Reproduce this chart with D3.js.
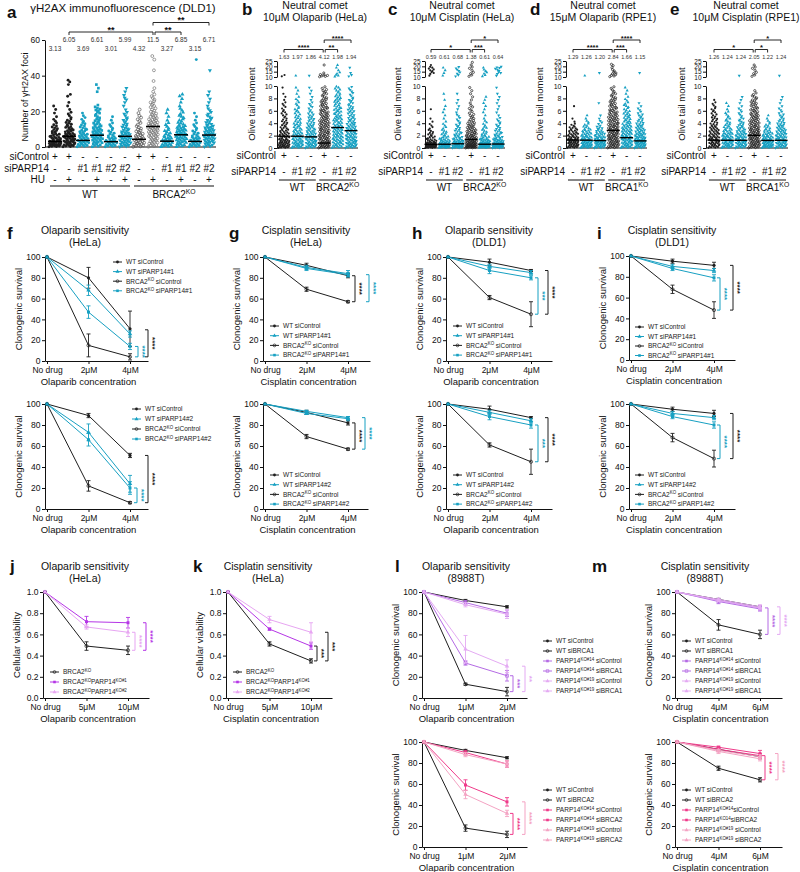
<!DOCTYPE html>
<html><head><meta charset="utf-8">
<script src="https://cdn.jsdelivr.net/npm/d3@7"></script>
<style>body{margin:0;background:#fff}</style>
</head><body><script>
// ================= DATA =================
// Panel a: gammaH2AX foci, counts of cells per 2-foci bin (0-2, 2-4, ...)
const aSiControl = ["+","+","-","-","-","-","+","+","-","-","-","-"];
const aSiPARP14  = ["-","-","#1","#1","#2","#2","-","-","#1","#1","#2","#2"];
const aHU        = ["-","+","-","+","-","+","-","+","-","+","-","+"];
const aMeans     = [3.13,6.05,3.69,6.61,3.01,5.99,4.32,11.5,3.27,6.85,3.15,6.71];
const aMeanLabels= ["3.13","6.05","3.69","6.61","3.01","5.99","4.32","11.5","3.27","6.85","3.15","6.71"];
const aTicks     = [0,20,40,60];
const aCounts = [
 [14,10,8,6,4,4,2,2,1,1,1,1],
 [10,10,9,8,6,5,4,3,2,2,1,1,1,0,2,0,0,1,2],
 [8,8,7,6,5,4,3,2,2,1],
 [6,7,8,8,7,6,5,4,3,3,4,2,0,0,0,1,1,1],
 [8,8,6,4,3,2,2,1,1],
 [7,8,8,7,5,4,3,3,2,2,1,1,1,2,1,1,1],
 [8,7,6,5,4,3,2,2,2,1,1],
 [6,6,6,7,7,8,7,6,5,4,3,3,3,2,2,1,1,0,1,0,0,1,0,0,1,1],
 [8,7,6,4,3,2,2,1,1,1,1],
 [6,7,8,8,7,6,4,3,3,2,2,1,1,1,2],
 [8,7,6,4,3,2,2,1,1,1,0,0,0,0,0,0,0,0,0,0,0,0,0,0,1],
 [6,7,8,8,7,6,4,3,3,2,2,1,1,1,1,1,0,0,0,0,0,1]
];
const aSig = ["**","**","**"];

// Panels b-e: olive tail moment; counts per 0.5 bin (0-10) and per 2.5 bin (10-25)
const cometSiControl = ["+","-","-","+","-","-"];
const cometSiPARP14  = ["-","#1","#2","-","#1","#2"];
const cometLowTicks  = [0,2,4,6,8,10];
const cometHighTicks = [10,15,20,25];
const bLow = [
 [14,12,10,8,7,6,5,4,4,3,3,3,2,2,2,1,1,1,0,1],
 [10,10,9,8,7,6,5,5,4,4,3,3,3,2,2,2,1,1,1,1],
 [10,10,9,8,7,6,6,5,4,4,3,3,2,2,2,1,1,1,1,1],
 [12,10,9,9,8,8,7,7,7,6,6,6,5,5,4,4,3,3,3,2],
 [8,8,8,8,7,7,7,6,6,6,5,5,5,4,4,4,4,3,3,3],
 [10,10,9,9,8,7,7,6,5,5,4,4,4,3,3,3,2,2,2,2]];
const bHigh = [[2,0,0,0,0,0],[1,0,0,0,0,0],[1,0,0,0,0,0],[6,1,0,0,1,0],[3,2,1,1,1,0],[2,1,0,1,0,0]];
const bLine = [1.9,1.9,1.8,0.8,3.3,2.8];
const bMeans = ["1.63","1.97","1.86","4.12","1.98","1.94"];
const bSig = ["****","**","****"];
const cLow = [
 [22,14,8,5,4,3,2,2,1,1,0,0,1,0,0,0,0,0,0,0],
 [18,12,8,5,4,3,2,2,1,1,1,1,1,1,0,1,0,1,0,0],
 [18,12,9,6,5,4,3,3,2,2,2,1,1,1,1,1,0,1,0,0],
 [20,16,12,10,8,7,6,5,4,3,3,2,2,2,1,1,1,1,1,1],
 [20,14,10,6,4,3,3,2,2,1,1,1,1,1,1,1,1,0,0,0],
 [20,14,10,6,5,4,3,3,2,2,1,1,1,1,1,1,1,1,0,1]];
const cHigh = [[1,3,3,3,1,0],[1,1,1,1,0,0],[2,2,2,2,0,0],[2,2,1,2,1,1],[2,2,2,1,0,0],[1,3,2,4,0,0]];
const cLine = [0.59,0.61,0.68,1.38,0.61,0.64];
const cMeans = ["0.59","0.61","0.68","1.38","0.61","0.64"];
const cSig = ["*","***","*"];
const dLow = [
 [12,12,11,9,8,6,5,3,1,1,0,0,0,1,0,0,0,0,0,0],
 [12,12,10,9,7,6,4,3,2,1,1,0,0,0,0,0,0,0,0,0],
 [12,12,10,9,7,5,4,2,2,1,1,0,0,0,1,0,0,0,0,0],
 [10,10,10,10,9,9,8,8,7,7,6,6,5,5,4,4,3,3,2,2],
 [10,10,10,9,8,8,7,6,5,5,4,4,3,3,2,2,1,1,1,1],
 [12,12,11,10,9,7,6,5,4,3,3,2,2,1,1,0,0,0,0,0]];
const dHigh = [[0,0,0,0,0,0],[1,0,0,0,0,0],[0,1,0,0,0,0],[4,3,2,1,2,0],[0,0,0,0,0,0],[0,1,0,0,0,0]];
const dLine = [1.29,1.26,1.20,2.84,1.66,1.15];
const dMeans = ["1.29","1.26","1.20","2.84","1.66","1.15"];
const dSig = ["****","***","****"];
const eLow = [
 [10,10,10,9,8,7,6,5,4,4,3,3,3,2,2,1,0,0,0,0],
 [10,10,10,9,8,6,5,4,3,3,2,2,1,1,1,0,0,0,0,0],
 [10,10,10,9,8,6,5,4,3,3,2,2,2,1,1,1,1,0,0,0],
 [10,10,10,10,9,9,8,7,7,6,6,5,5,4,4,3,3,2,1,0],
 [12,12,10,9,7,5,4,3,2,1,1,0,0,0,0,0,0,0,0,0],
 [10,10,10,9,8,7,6,5,4,3,3,2,2,1,1,1,1,0,0,0]];
const eHigh = [[0,0,0,0,0,0],[0,0,0,0,0,0],[1,0,0,0,0,0],[2,2,1,2,1,0],[0,0,0,0,0,0],[1,0,0,0,0,0]];
const eLine = [1.26,1.24,1.24,2.05,1.22,1.24];
const eMeans = ["1.26","1.24","1.24","2.05","1.22","1.24"];
const eSig = ["*","*","*"];

// Panels f-m: survival curves
const survTicks = [0,20,40,60,80,100];
const viabTicks = [0,0.2,0.4,0.6,0.8,1.0];
const doses24 = ["No drug","2μM","4μM"];
const doses510 = ["No drug","5μM","10μM"];
const doses12 = ["No drug","1μM","2μM"];
const doses46 = ["No drug","4μM","6μM"];
const f1Vals = [[100,80,31],[100,68,26],[100,15,4],[100,47,14]];
const f1Errs = [[0,10,17],[0,5,3],[0,11,3],[0,6,3]];
const f2Vals = [[100,89,51],[100,73,24],[100,22,6],[100,66,20]];
const f2Errs = [[0,2,2],[0,8,8],[0,5,1],[0,6,6]];
const g1Vals = [[100,92,82],[100,90,84],[100,69,57],[100,89,83]];
const g1Errs = [[0,2,2],[0,2,3],[0,2,1],[0,2,2]];
const g2Vals = [[100,92,82],[100,91,86],[100,69,57],[100,93,87]];
const g2Errs = [[0,2,2],[0,1,2],[0,2,1],[0,1,1]];
const h1Vals = [[100,95,87],[100,91,85],[100,61,45],[100,87,80]];
const h1Errs = [[0,3,1],[0,2,2],[0,2,12],[0,3,2]];
const h2Vals = [[100,95,87],[100,92,84],[100,61,45],[100,88,80]];
const h2Errs = [[0,3,1],[0,2,2],[0,2,12],[0,3,3]];
const i1Vals = [[100,95,91],[100,90,86],[100,68,48],[100,88,79]];
const i1Errs = [[0,2,3],[0,2,2],[0,4,8],[0,2,3]];
const i2Vals = [[100,95,91],[100,91,87],[100,68,48],[100,88,80]];
const i2Errs = [[0,2,3],[0,2,2],[0,4,8],[0,2,3]];
const jVals = [[1,0.49,0.45],[1,0.72,0.71],[1,0.67,0.62]];
const jErrs = [[0,0.04,0.04],[0,0.05,0.05],[0,0.02,0.04]];
const kVals = [[1,0.51,0.35],[1,0.65,0.49],[1,0.74,0.62]];
const kErrs = [[0,0.02,0.02],[0,0.01,0.03],[0,0.03,0.09]];
const lVals = [[100,92,86],[100,13,6],[100,90,80],[100,33,21],[100,88,79],[100,46,30]];
const lErrs = [[0,1,1],[0,1,4],[0,2,3],[0,2,5],[0,2,4],[0,13,6]];
const l2Vals = [[100,92,85],[100,18,12],[100,90,79],[100,59,43],[100,88,79],[100,50,32]];
const l2Errs = [[0,1,1],[0,3,3],[0,2,3],[0,5,4],[0,2,3],[0,4,3]];
const mVals = [[100,93,86],[100,69,60],[100,92,85],[100,91,84],[100,93,86],[100,92,85]];
const mErrs = [[0,1,1],[0,5,4],[0,1,2],[0,2,2],[0,1,2],[0,1,2]];
const m2Vals = [[100,93,86],[100,75,64],[100,95,89],[100,93,87],[100,92,86],[100,91,84]];
const m2Errs = [[0,1,2],[0,2,2],[0,1,3],[0,2,2],[0,1,2],[0,2,2]];
const legF1 = ["WT siControl","WT siPARP14#1","BRCA2^KO^ siControl","BRCA2^KO^ siPARP14#1"];
const legF2 = ["WT siControl","WT siPARP14#2","BRCA2^KO^ siControl","BRCA2^KO^ siPARP14#2"];
const legJ  = ["BRCA2^KO","BRCA2^KO^PARP14^KO#1","BRCA2^KO^PARP14^KO#2"];
const legL1 = ["WT siControl","WT siBRCA1","PARP14^KO#14^ siControl","PARP14^KO#14^ siBRCA1","PARP14^KO#19^ siControl","PARP14^KO#19^ siBRCA1"];
const legL2 = ["WT siControl","WT siBRCA2","PARP14^KO#14^ siControl","PARP14^KO#14^ siBRCA2","PARP14^KO#19^ siControl","PARP14^KO#19^ siBRCA2"];
const legM2 = ["WT siControl","WT siBRCA2","PARP14^KO#14^siControl","PARP14^KO14^siBRCA2","PARP14^KO#19^ siControl","PARP14^KO#19^ siBRCA2"];

// ================= STYLE =================
const FONT = "'Liberation Sans', Arial, Helvetica, sans-serif";
const BLACK = "#1e1e1e", TEAL = "#17a0c2", GRAY = "#555";
const PURPLE = "#b535e6", LPURPLE = "#e7a5f2";
const MPURPLE = "#b46ae4", LMPURPLE = "#e4aaf3";
const PINK = "#ef3a8a", LPINK = "#f4a3c3";

const svg = d3.select("body").append("svg").attr("width",800).attr("height",872)
  .style("font-family",FONT).style("background","#fff");

function rich(sel, s, size){
  const parts = s.split("^"); let up=false;
  parts.forEach((p,i)=>{
    const sup = i%2===1;
    if(p===""){ return; }
    const ts = sel.append("tspan").text(p);
    if(sup){ ts.attr("font-size",size*0.68); if(!up){ts.attr("dy",-size*0.38); up=true;} }
    else if(up){ ts.attr("dy",size*0.38); up=false; }
  });
}
function txt(x,y,s,o={}){
  const size=o.size||9;
  const t=svg.append("text").attr("x",x).attr("y",y).attr("font-size",size)
    .attr("text-anchor",o.anchor||"start").attr("fill",o.color||"#111");
  if(o.weight) t.attr("font-weight",o.weight);
  if(o.rotate!=null) t.attr("transform",`rotate(${o.rotate},${x},${y})`);
  rich(t,s,size); return t;
}
function ln(x1,y1,x2,y2,c,w){ svg.append("line").attr("x1",x1).attr("y1",y1).attr("x2",x2).attr("y2",y2).attr("stroke",c||"#111").attr("stroke-width",w||1); }
function styleAxis(g,size){
  g.attr("font-family",FONT).attr("font-size",size);
  g.select(".domain").attr("stroke","#111");
  g.selectAll(".tick line").attr("stroke","#111");
  g.selectAll(".tick text").attr("fill","#111");
}
function marker(x,y,shape,color,open,r){
  if(shape==="circle"){
    svg.append("circle").attr("cx",x).attr("cy",y).attr("r",r)
      .attr("fill",open?"none":color).attr("stroke",open?color:"none").attr("stroke-width",0.7);
  } else {
    const t={square:d3.symbolSquare,triangle:d3.symbolTriangle,down:d3.symbolTriangle,diamond:d3.symbolDiamond}[shape];
    svg.append("path").attr("d",d3.symbol().type(t).size(r*r*3.4)())
      .attr("transform",`translate(${x},${y})${shape==="down"?" rotate(180)":""}`)
      .attr("fill",open?"none":color).attr("stroke",open?color:"none").attr("stroke-width",0.7);
  }
}
function dots(cx,counts,base,binW,yScale,st,maxW,r){
  counts.forEach((n,j)=>{
    const W=Math.min(maxW,2+n*1.2);
    for(let k=0;k<n;k++){
      const v=base+(j+(k+0.5)/n)*binW;
      const px=cx+(((k*0.618034+j*0.371)%1)-0.5)*W;
      marker(px,yScale(v),st.m,st.c,st.open,r);
    }
  });
}
function hBracket(x1,x2,y,label,size){
  ln(x1,y,x2,y,"#111",0.9); ln(x1,y,x1,y+3,"#111",0.9); ln(x2,y,x2,y+3,"#111",0.9);
  txt((x1+x2)/2,y+0.5,label,{size:size,anchor:"middle",weight:"bold"});
}

// ================= PANEL a =================
(function(){
  const y=d3.scaleLinear().domain([0,60]).range([147,40]);
  const gx=d3.scaleLinear().domain([0,11]).range([55,209]);
  const ax=svg.append("g").attr("transform","translate(45,0)")
    .call(d3.axisLeft(y).tickValues(aTicks).tickSize(3).tickSizeOuter(0).tickPadding(2));
  styleAxis(ax,8.5);
  ln(45,147,216,147);
  const st=[{m:"circle",c:BLACK},{m:"circle",c:BLACK},{m:"circle",c:TEAL},{m:"square",c:TEAL},{m:"circle",c:TEAL},{m:"down",c:TEAL},
            {m:"circle",c:GRAY,open:true},{m:"circle",c:"#777",open:true},{m:"triangle",c:TEAL},{m:"triangle",c:TEAL},{m:"circle",c:TEAL},{m:"down",c:TEAL}];
  aCounts.forEach((c,i)=>dots(gx(i),c,0,2,y,st[i],12,1.45));
  aMeans.forEach((m,i)=>ln(gx(i)-7,y(m),gx(i)+7,y(m),"#000",1.5));
  aMeanLabels.forEach((s,i)=>txt(gx(i),i%2?42:51,s,{size:6.5,anchor:"middle",color:"#333"}));
  hBracket(gx(1),gx(7),32,aSig[0],9);
  hBracket(gx(7)+2,gx(9),32,aSig[1],9);
  hBracket(gx(7),gx(11),22.5,aSig[2],9);
  txt(7,18,"a",{size:17,weight:"bold"});
  txt(123,11.5,"γH2AX immunofluorescence (DLD1)",{size:11.5,anchor:"middle"});
  txt(28,97,"Number of γH2AX foci",{size:9,anchor:"middle",rotate:-90});
  txt(49,160,"siControl",{size:10,anchor:"end"});
  txt(49,171.5,"siPARP14",{size:10,anchor:"end"});
  txt(45,183,"HU",{size:10,anchor:"end"});
  aSiControl.forEach((s,i)=>txt(gx(i),160,s,{size:10,anchor:"middle"}));
  aSiPARP14.forEach((s,i)=>txt(gx(i),171.5,s,{size:10,anchor:"middle"}));
  aHU.forEach((s,i)=>txt(gx(i),183,s,{size:10,anchor:"middle"}));
  ln(gx(0)-5,186,gx(5)+5,186,"#111",1.2); ln(gx(6)-5,186,gx(11)+5,186,"#111",1.2);
  txt((gx(0)+gx(5))/2,198,"WT",{size:10,anchor:"middle"});
  txt((gx(6)+gx(11))/2,198,"BRCA2^KO",{size:10,anchor:"middle"});
})();

// ================= PANELS b-e =================
function cometPanel(o){
  const yL=d3.scaleLinear().domain([0,10]).range([148,86]);
  const yH=d3.scaleLinear().domain([10,25]).range([77,61]);
  const gx=d3.scaleLinear().domain([0,5]).range([o.g1,o.g1+5*13.4]);
  const a1=svg.append("g").attr("transform",`translate(${o.axisX},0)`)
    .call(d3.axisLeft(yL).tickValues(cometLowTicks).tickSize(3).tickSizeOuter(0).tickPadding(1.5));
  const a2=svg.append("g").attr("transform",`translate(${o.axisX},0)`)
    .call(d3.axisLeft(yH).tickValues(cometHighTicks).tickSize(3).tickSizeOuter(0).tickPadding(1.5));
  styleAxis(a1,7); styleAxis(a2,6.5);
  ln(o.axisX,148,gx(5)+7,148);
  const st=[{m:"circle",c:BLACK},{m:"triangle",c:TEAL},{m:"down",c:TEAL},{m:"circle",c:BLACK,open:true},{m:"triangle",c:TEAL},{m:"down",c:TEAL}];
  o.low.forEach((c,i)=>dots(gx(i),c,0,0.5,yL,st[i],11,1.1));
  o.high.forEach((c,i)=>dots(gx(i),c,10,2.5,yH,st[i],11,1.1));
  o.line.forEach((m,i)=>ln(gx(i)-6.5,yL(m),gx(i)+6.5,yL(m),"#000",1.4));
  o.means.forEach((s,i)=>txt(gx(i),59,s,{size:5.5,anchor:"middle",color:"#333"}));
  hBracket(gx(0),gx(3)-1,49.5,o.sig[0],7.5);
  hBracket(gx(3)+1,gx(4),49.5,o.sig[1],7.5);
  hBracket(gx(3),gx(5),40,o.sig[2],7.5);
  txt(o.letterX,15,o.letter,{size:17,weight:"bold"});
  txt(o.titleX,9,"Neutral comet",{size:10.5,anchor:"middle"});
  txt(o.titleX,21,o.title2,{size:10.5,anchor:"middle"});
  txt(o.ylabX,104,"Olive tail moment",{size:9.5,anchor:"middle",rotate:-90});
  txt(gx(0)-8,159,"siControl",{size:10,anchor:"end"});
  txt(gx(0)-8,175,"siPARP14",{size:10,anchor:"end"});
  cometSiControl.forEach((s,i)=>txt(gx(i),159,s,{size:10,anchor:"middle"}));
  cometSiPARP14.forEach((s,i)=>txt(gx(i),175,s,{size:10,anchor:"middle"}));
  ln(gx(0)-5,180,gx(2)+5,180,"#111",1.2); ln(gx(3)-5,180,gx(5)+5,180,"#111",1.2);
  txt(gx(1),191,"WT",{size:10,anchor:"middle"});
  txt(gx(4),191,o.ko,{size:10,anchor:"middle"});
}
cometPanel({letter:"b",letterX:242,titleX:315,title2:"10μM Olaparib (HeLa)",ylabX:255,axisX:277,g1:284,low:bLow,high:bHigh,line:bLine,means:bMeans,sig:bSig,ko:"BRCA2^KO"});
cometPanel({letter:"c",letterX:388,titleX:462,title2:"10μM Cisplatin (HeLa)",ylabX:401,axisX:425,g1:431,low:cLow,high:cHigh,line:cLine,means:cMeans,sig:cSig,ko:"BRCA2^KO"});
cometPanel({letter:"d",letterX:530,titleX:603,title2:"15μM Olaparib (RPE1)",ylabX:543,axisX:566,g1:573,low:dLow,high:dHigh,line:dLine,means:dMeans,sig:dSig,ko:"BRCA1^KO"});
cometPanel({letter:"e",letterX:670,titleX:746,title2:"10μM Cisplatin (RPE1)",ylabX:685,axisX:706,g1:714,low:eLow,high:eHigh,line:eLine,means:eMeans,sig:eSig,ko:"BRCA1^KO"});

// ================= LINE PANELS =================
function lineChart(o){
  const y=d3.scaleLinear().domain([0,o.yMax]).range([o.yBot,o.yTop]);
  const off=2, step=41.5;
  const x=d3.scaleLinear().domain([-off/step,(o.xEnd-o.axisX-off)/step]).range([o.axisX,o.xEnd]);
  const ya=svg.append("g").attr("transform",`translate(${o.axisX},0)`)
    .call(d3.axisLeft(y).tickValues(o.ticks).tickFormat(o.fmt||(d=>d)).tickSize(3).tickSizeOuter(0).tickPadding(1.5));
  const xa=svg.append("g").attr("transform",`translate(0,${o.yBot})`)
    .call(d3.axisBottom(x).tickValues([0,1,2]).tickFormat(i=>o.doses[i]).tickSize(3).tickSizeOuter(0).tickPadding(2.5));
  styleAxis(ya,8.5); styleAxis(xa,8.5);
  const line=d3.line().x((d,i)=>x(i)).y(d=>y(d));
  o.vals.forEach((v,s)=>{
    const st=o.styles[s];
    svg.append("path").attr("d",line(v)).attr("fill","none").attr("stroke",st.c).attr("stroke-width",1);
    v.forEach((d,i)=>{
      const e=o.errs[s][i];
      if(e>0){
        ln(x(i),y(d-e),x(i),y(d+e),st.c,0.9);
        ln(x(i)-2,y(d-e),x(i)+2,y(d-e),st.c,0.9);
        ln(x(i)-2,y(d+e),x(i)+2,y(d+e),st.c,0.9);
      }
      marker(x(i),y(d),st.m,st.c,st.open,1.6);
    });
  });
  o.brackets.forEach(b=>{
    const bx=x(2)+b.dx, y1=y(b.a), y2=y(b.b);
    ln(bx,y1,bx,y2,b.c,1); ln(bx-3,y1,bx,y1,b.c,1); ln(bx-3,y2,bx,y2,b.c,1);
    txt(bx+1.5,(y1+y2)/2,b.s,{size:8,anchor:"middle",rotate:90,color:b.c,weight:"bold"});
  });
  o.legend.forEach((s,i)=>{
    const ly=o.legY+i*o.legDy, st=o.styles[i];
    ln(o.legX,ly,o.legX+9,ly,st.c,1);
    marker(o.legX+4.5,ly,st.m,st.c,st.open,1.4);
    txt(o.legX+13,ly+2.3,s,{size:6.5,color:"#222"});
  });
  txt((o.axisX+o.xEnd)/2-8,o.yBot+24,o.xLabel,{size:9.5,anchor:"middle"});
  txt(o.axisX-23,(o.yTop+o.yBot)/2,o.yLabel,{size:9.5,anchor:"middle",rotate:-90});
  if(o.title){
    txt(o.titleX,o.titleY,o.title[0],{size:10.5,anchor:"middle"});
    txt(o.titleX,o.titleY+12,o.title[1],{size:10.5,anchor:"middle"});
  }
  if(o.letter) txt(o.letterX,o.letterY,o.letter,{size:17,weight:"bold"});
}
const sty4 = [{c:BLACK,m:"circle"},{c:TEAL,m:"triangle"},{c:BLACK,m:"circle",open:true},{c:TEAL,m:"square"}];
const styJ = [{c:BLACK,m:"circle",open:true},{c:PURPLE,m:"square"},{c:LPURPLE,m:"triangle"}];
const styL = [{c:BLACK,m:"circle"},{c:BLACK,m:"circle",open:true},{c:MPURPLE,m:"square"},{c:MPURPLE,m:"square",open:true},{c:LMPURPLE,m:"triangle"},{c:LMPURPLE,m:"triangle"}];
const styL2= [{c:BLACK,m:"circle"},{c:BLACK,m:"circle",open:true},{c:PINK,m:"square"},{c:PINK,m:"square"},{c:LPINK,m:"triangle"},{c:LPINK,m:"triangle"}];
const CS="Clonogenic survival";

lineChart({axisX:45,xEnd:148,yTop:257,yBot:361,yMax:100,ticks:survTicks,doses:doses24,vals:f1Vals,errs:f1Errs,styles:sty4,
  brackets:[{a:14,b:4,c:TEAL,s:"****",dx:8},{a:30,b:4,c:BLACK,s:"****",dx:18}],
  legend:legF1,legX:113,legY:262,legDy:9.6,xLabel:"Olaparib concentration",yLabel:CS,
  title:["Olaparib sensitivity","(HeLa)"],titleX:85,titleY:234,letter:"f",letterX:7,letterY:239});
lineChart({axisX:45,xEnd:148,yTop:404,yBot:509,yMax:100,ticks:survTicks,doses:doses24,vals:f2Vals,errs:f2Errs,styles:sty4,
  brackets:[{a:20,b:6,c:TEAL,s:"****",dx:7},{a:51,b:6,c:BLACK,s:"****",dx:18}],
  legend:legF2,legX:132,legY:409,legDy:10,xLabel:"Olaparib concentration",yLabel:CS});
lineChart({axisX:263,xEnd:370,yTop:257,yBot:361,yMax:100,ticks:survTicks,doses:doses24,vals:g1Vals,errs:g1Errs,styles:sty4,
  brackets:[{a:82,b:57,c:BLACK,s:"****",dx:7},{a:83,b:57,c:TEAL,s:"****",dx:21}],
  legend:legF1,legX:270,legY:326,legDy:9.7,xLabel:"Cisplatin concentration",yLabel:CS,
  title:["Cisplatin sensitivity","(HeLa)"],titleX:306,titleY:234,letter:"g",letterX:229,letterY:239});
lineChart({axisX:263,xEnd:368,yTop:404,yBot:509,yMax:100,ticks:survTicks,doses:doses24,vals:g2Vals,errs:g2Errs,styles:sty4,
  brackets:[{a:82,b:57,c:BLACK,s:"****",dx:7},{a:87,b:57,c:TEAL,s:"****",dx:17}],
  legend:legF2,legX:270,legY:475,legDy:9.7,xLabel:"Cisplatin concentration",yLabel:CS});
lineChart({axisX:446,xEnd:552,yTop:257,yBot:361,yMax:100,ticks:survTicks,doses:doses24,vals:h1Vals,errs:h1Errs,styles:sty4,
  brackets:[{a:80,b:45,c:TEAL,s:"***",dx:7},{a:87,b:45,c:BLACK,s:"****",dx:17}],
  legend:legF1,legX:453,legY:326,legDy:9.7,xLabel:"Olaparib concentration",yLabel:CS,
  title:["Olaparib sensitivity","(DLD1)"],titleX:489,titleY:234,letter:"h",letterX:412,letterY:239});
lineChart({axisX:446,xEnd:552,yTop:404,yBot:509,yMax:100,ticks:survTicks,doses:doses24,vals:h2Vals,errs:h2Errs,styles:sty4,
  brackets:[{a:80,b:45,c:TEAL,s:"***",dx:7},{a:87,b:45,c:BLACK,s:"****",dx:17}],
  legend:legF2,legX:453,legY:475,legDy:9.7,xLabel:"Olaparib concentration",yLabel:CS});
lineChart({axisX:629,xEnd:735,yTop:256,yBot:360,yMax:100,ticks:survTicks,doses:doses24,vals:i1Vals,errs:i1Errs,styles:sty4,
  brackets:[{a:79,b:48,c:TEAL,s:"****",dx:6},{a:91,b:48,c:BLACK,s:"****",dx:19}],
  legend:legF1,legX:635,legY:327,legDy:9.5,xLabel:"Cisplatin concentration",yLabel:CS,
  title:["Cisplatin sensitivity","(DLD1)"],titleX:672,titleY:234,letter:"i",letterX:597,letterY:239});
lineChart({axisX:629,xEnd:735,yTop:404,yBot:509,yMax:100,ticks:survTicks,doses:doses24,vals:i2Vals,errs:i2Errs,styles:sty4,
  brackets:[{a:80,b:48,c:TEAL,s:"****",dx:6},{a:91,b:48,c:BLACK,s:"****",dx:19}],
  legend:legF2,legX:635,legY:475,legDy:9.7,xLabel:"Cisplatin concentration",yLabel:CS});
const fmt1=d=>d.toFixed(1);
lineChart({axisX:43,xEnd:149,yTop:592,yBot:698,yMax:1,ticks:viabTicks,fmt:fmt1,doses:doses510,vals:jVals,errs:jErrs,styles:styJ,
  brackets:[{a:0.62,b:0.45,c:LPURPLE,s:"****",dx:7},{a:0.71,b:0.45,c:PURPLE,s:"****",dx:18}],
  legend:legJ,legX:50,legY:672,legDy:10,xLabel:"Olaparib concentration",yLabel:"Cellular viability",
  title:["Olaparib sensitivity","(HeLa)"],titleX:85,titleY:570,letter:"j",letterX:10,letterY:572});
lineChart({axisX:226,xEnd:332,yTop:592,yBot:698,yMax:1,ticks:viabTicks,fmt:fmt1,doses:doses510,vals:kVals,errs:kErrs,styles:styJ,
  brackets:[{a:0.49,b:0.35,c:BLACK,s:"***",dx:6},{a:0.62,b:0.35,c:BLACK,s:"***",dx:17}],
  legend:legJ,legX:233,legY:672,legDy:10,xLabel:"Cisplatin concentration",yLabel:"Cellular viability",
  title:["Cisplatin sensitivity","(HeLa)"],titleX:268,titleY:570,letter:"k",letterX:193,letterY:572});
lineChart({axisX:422,xEnd:527,yTop:592,yBot:698,yMax:100,ticks:survTicks,doses:doses12,vals:lVals,errs:lErrs,styles:styL,
  brackets:[{a:21,b:6,c:MPURPLE,s:"***",dx:6},{a:30,b:6,c:LMPURPLE,s:"**",dx:18}],
  legend:legL1,legX:543,legY:641,legDy:10,xLabel:"Olaparib concentration",yLabel:CS,
  title:["Olaparib sensitivity","(8988T)"],titleX:466,titleY:570,letter:"l",letterX:395,letterY:572});
lineChart({axisX:422,xEnd:527,yTop:742,yBot:847,yMax:100,ticks:survTicks,doses:doses12,vals:l2Vals,errs:l2Errs,styles:styL2,
  brackets:[{a:32,b:12,c:PINK,s:"****",dx:6},{a:43,b:12,c:LPINK,s:"****",dx:18}],
  legend:legL2,legX:543,legY:790,legDy:10,xLabel:"Olaparib concentration",yLabel:CS});
lineChart({axisX:675,xEnd:782,yTop:592,yBot:698,yMax:100,ticks:survTicks,doses:doses46,vals:mVals,errs:mErrs,styles:styL,
  brackets:[{a:85,b:60,c:MPURPLE,s:"****",dx:8},{a:86,b:60,c:LMPURPLE,s:"****",dx:20}],
  legend:legL1,legX:682,legY:641,legDy:10,xLabel:"Cisplatin concentration",yLabel:CS,
  title:["Cisplatin sensitivity","(8988T)"],titleX:705,titleY:570,letter:"m",letterX:592,letterY:572});
lineChart({axisX:675,xEnd:782,yTop:742,yBot:847,yMax:100,ticks:survTicks,doses:doses46,vals:m2Vals,errs:m2Errs,styles:styL2,
  brackets:[{a:87,b:64,c:PINK,s:"****",dx:5},{a:89,b:64,c:LPINK,s:"****",dx:18}],
  legend:legM2,legX:682,legY:790,legDy:10,xLabel:"Cisplatin concentration",yLabel:CS});
</script></body></html>
